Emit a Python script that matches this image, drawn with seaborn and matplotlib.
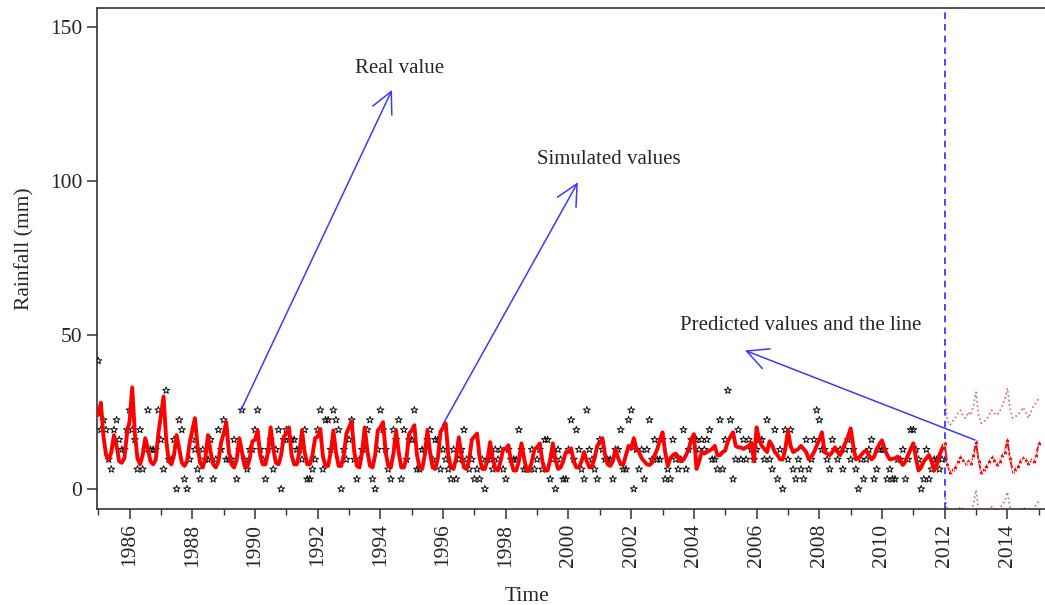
import numpy as np
import pandas as pd
import seaborn as sns
import matplotlib.pyplot as plt
from matplotlib.ticker import MultipleLocator

# monthly observed rainfall (mm), Jan 1985 .. Dec 2011, one row per year
real_rain = [
    41.6, 19.2, 22.4, 19.2, 9.6, 6.4, 19.2, 22.4, 16, 12.8, 12.8, 19.2,
    25.6, 19.2, 16, 6.4, 19.2, 6.4, 12.8, 25.6, 12.8, 12.8, 12.8, 25.6,
    16, 6.4, 32, 9.6, 9.6, 16, 0, 22.4, 19.2, 3.2, 0, 9.6,
    16, 12.8, 6.4, 3.2, 12.8, 9.6, 9.6, 16, 3.2, 9.6, 19.2, 12.8,
    22.4, 9.6, 9.6, 9.6, 16, 3.2, 12.8, 25.6, 9.6, 6.4, 12.8, 12.8,
    19.2, 25.6, 12.8, 9.6, 3.2, 12.8, 16, 6.4, 12.8, 19.2, 0, 16,
    19.2, 16, 16, 16, 12.8, 12.8, 9.6, 19.2, 3.2, 3.2, 6.4, 9.6,
    19.2, 25.6, 6.4, 22.4, 22.4, 12.8, 25.6, 22.4, 19.2, 0, 12.8, 9.6,
    16, 22.4, 9.6, 3.2, 9.6, 12.8, 12.8, 19.2, 22.4, 3.2, 0, 12.8,
    25.6, 19.2, 12.8, 6.4, 3.2, 19.2, 16, 22.4, 3.2, 19.2, 9.6, 16,
    16, 25.6, 6.4, 6.4, 12.8, 12.8, 16, 19.2, 9.6, 16, 16, 6.4,
    12.8, 9.6, 6.4, 3.2, 12.8, 3.2, 9.6, 12.8, 19.2, 9.6, 6.4, 9.6,
    3.2, 6.4, 3.2, 9.6, 0, 9.6, 9.6, 6.4, 12.8, 9.6, 12.8, 6.4,
    3.2, 12.8, 9.6, 9.6, 9.6, 19.2, 12.8, 6.4, 6.4, 6.4, 12.8, 6.4,
    9.6, 12.8, 6.4, 16, 16, 3.2, 9.6, 0, 12.8, 9.6, 3.2, 3.2,
    12.8, 22.4, 9.6, 19.2, 12.8, 6.4, 3.2, 25.6, 12.8, 9.6, 6.4, 3.2,
    16, 12.8, 9.6, 9.6, 9.6, 3.2, 12.8, 12.8, 19.2, 6.4, 6.4, 22.4,
    25.6, 0, 12.8, 6.4, 12.8, 3.2, 12.8, 22.4, 9.6, 16, 9.6, 9.6,
    16, 3.2, 6.4, 3.2, 16, 9.6, 6.4, 9.6, 19.2, 6.4, 12.8, 16,
    16, 16, 12.8, 16, 12.8, 16, 19.2, 9.6, 9.6, 6.4, 22.4, 6.4,
    16, 32, 22.4, 3.2, 9.6, 19.2, 9.6, 16, 9.6, 16, 12.8, 9.6,
    12.8, 16, 16, 9.6, 22.4, 9.6, 6.4, 19.2, 3.2, 12.8, 0, 19.2,
    9.6, 19.2, 6.4, 3.2, 9.6, 6.4, 3.2, 16, 6.4, 9.6, 16, 25.6,
    22.4, 12.8, 12.8, 9.6, 6.4, 16, 12.8, 9.6, 12.8, 6.4, 12.8, 16,
    9.6, 12.8, 6.4, 0, 9.6, 3.2, 9.6, 12.8, 16, 3.2, 6.4, 12.8,
    12.8, 12.8, 3.2, 6.4, 3.2, 3.2, 9.6, 9.6, 12.8, 3.2, 9.6, 19.2,
    19.2, 12.8, 9.6, 0, 3.2, 12.8, 3.2, 6.4, 9.6, 9.6, 6.4, 9.6,
]

# simulated monthly rainfall, Jan 1985 .. Jan 2012
sim_rain = [
    24, 28, 17, 11, 9.5, 12, 17.5, 14, 9, 8.5, 10, 18,
    22, 33, 18, 10, 8, 11, 16.5, 13, 9, 8, 9.5, 18,
    24, 30, 16, 9, 8, 11, 17.5, 13, 8.5, 7.5, 9, 15,
    19, 23, 14, 8.5, 7, 10, 17.5, 12, 8, 7, 9, 15,
    18, 21.7, 12, 8, 7, 9.5, 16.5, 12, 7.5, 7, 10, 15.5,
    16, 19, 11, 8, 8, 12, 20, 13, 8.5, 8, 11, 17,
    18, 20, 11, 8, 8, 12, 19, 12, 8, 8, 11, 16.5,
    17, 19.5, 10.5, 7.5, 7.5, 12, 19, 12, 7.5, 7.5, 11, 18,
    20, 22, 12, 7.5, 7, 12, 20, 12.5, 7.5, 7, 11, 19,
    20, 21.7, 12, 7.5, 7, 11.5, 19, 12, 7, 7, 10, 18,
    19, 20.7, 11, 7, 6.5, 11, 19, 12, 7, 6.5, 10, 18.5,
    20, 21.3, 11, 7, 6.5, 10, 16.8, 11, 7, 6.5, 9.5, 16,
    17, 18, 10, 6.5, 6.5, 9.5, 15.2, 10, 6.5, 6, 9, 13,
    13, 14.2, 9, 6, 6, 9, 14.8, 10, 6, 6, 9, 13,
    13.5, 14.8, 9, 6, 6, 9.5, 14.8, 9.5, 6.5, 7, 9, 12,
    12, 13.2, 9, 7, 7, 9, 12, 9, 7, 7.5, 10, 14,
    15, 16.5, 11, 8, 7.5, 9, 13, 10, 8, 8, 11, 14,
    13, 16.5, 13, 12, 10, 9, 8, 7.8, 8.5, 11, 13, 16,
    18.4, 12, 7.5, 10, 11, 11.5, 10.5, 9, 9.5, 11, 13, 16,
    17.8, 6.5, 9, 12, 11.5, 12, 12.5, 13, 14, 11, 11, 12,
    12.5, 15.5, 17, 18.4, 14, 13.5, 13.5, 13, 13.5, 14, 15, 9,
    20, 16, 14, 13, 12, 15.5, 14, 12, 11, 9.6, 9.6, 13,
    19, 14, 12, 12.5, 13, 14, 13, 12, 9.6, 10.5, 12, 14,
    16, 18.4, 12, 11.5, 11, 12, 13.5, 12, 11, 13, 15, 17,
    19.7, 14, 9.6, 10, 11, 12, 12.5, 11, 9.6, 10.5, 13, 14.5,
    15.8, 13, 11, 9.6, 9.8, 10, 10.5, 9, 7.8, 9, 11, 13,
    14.8, 10, 6, 7, 9, 10, 11, 9, 6, 8, 11, 13,
    14.8,
]

# forecast, Jan 2012 .. Jan 2015, with upper / lower limits
pred_rain = [
    14.8, 8, 5.5, 6.5, 7, 9, 10.3, 9.5, 8.5, 9, 8.5, 11,
    15.2, 9, 5.5, 6.5, 7.5, 9, 10.3, 9.5, 8, 9, 11, 12,
    15.8, 10, 6, 6.5, 7.5, 9, 10, 9.5, 8.5, 9.5, 9, 11,
    14.8,
]
pred_upper = [
    30.4, 22, 20.7, 22, 23, 24.5, 25.6, 24, 23, 25, 24, 27,
    31.4, 24, 21.3, 22, 22.4, 24, 25.6, 24.5, 24, 25, 27, 29,
    32.7, 26, 23, 23.5, 24, 25, 26.5, 25, 23, 25, 27, 28,
    29.4,
]
pred_lower = [
    -1.5, -8, -10.5, -9.5, -9, -7, -5.7, -6.5, -7.5, -7, -7.5, -5,
    -0.3, -7, -10.5, -9.5, -8.5, -7, -5.7, -6.5, -8, -7, -5, -4,
    -1, -6, -10, -9.5, -8.5, -7, -6, -6.5, -7.5, -6.5, -7, -5,
    -4,
]

start_year = 1985
forecast_start = 2012.02
year_ticks = list(range(1986, 2015, 2))
y_ticks = [0, 50, 100, 150]

real = pd.DataFrame({"time": start_year + np.arange(len(real_rain)) / 12, "rain": real_rain})
sim = pd.DataFrame({"time": start_year + np.arange(len(sim_rain)) / 12, "rain": sim_rain})
pred_t = 2012 + np.arange(len(pred_rain)) / 12
pred = pd.DataFrame({"time": pred_t, "rain": pred_rain, "upper": pred_upper, "lower": pred_lower})

sns.set_style("ticks")
plt.rcParams["font.family"] = ["Liberation Serif", "DejaVu Serif"]

fig = plt.figure(figsize=(10.45, 6.05), dpi=100)
ax = fig.add_axes([97 / 1045, 1 - 509 / 605, 948 / 1045, 501 / 605])

# observed values
sns.scatterplot(data=real, x="time", y="rain", marker="*", s=28,
                facecolor="none", edgecolor="#111111", linewidth=0.7, ax=ax, zorder=3)
# simulated line
sns.lineplot(data=sim, x="time", y="rain", color="#ff0000", linewidth=2.8, ax=ax, zorder=4)
# prediction and its limits
sns.lineplot(data=pred, x="time", y="rain", color="#ee1111", linewidth=1.4,
             marker="*", markersize=6, markeredgewidth=0.6, ax=ax, zorder=4)
sns.lineplot(data=pred, x="time", y="upper", color="#f06060", linewidth=1.2,
             linestyle=":", ax=ax)
sns.lineplot(data=pred, x="time", y="lower", color="#f06060", linewidth=1.2,
             linestyle=":", ax=ax)

ax.axvline(forecast_start, color="#2a2aff", linestyle=(0, (4, 3)), linewidth=1.2)

arrow = dict(arrowstyle="->", color="#3a3aff", lw=1.1, mutation_scale=38,
             shrinkA=0, shrinkB=0)
ax.annotate("", xy=(1994.37, 129.6), xytext=(1989.52, 24.9), arrowprops=arrow)
ax.annotate("", xy=(2000.3, 99.6), xytext=(1995.98, 20.7), arrowprops=arrow)
ax.annotate("", xy=(2005.63, 45), xytext=(2013.07, 15.5), arrowprops=arrow)
ax.text(1994.6, 136.5, "Real value", ha="center", va="center", fontsize=15)
ax.text(2001.3, 107, "Simulated values", ha="center", va="center", fontsize=15)
ax.text(2007.4, 53, "Predicted values and the line", ha="center", va="center", fontsize=15)

ax.set_xlim(1984.96, 2015.2)
ax.set_ylim(-6.5, 156.2)
ax.set_xticks(year_ticks)
ax.set_xticklabels([str(y) for y in year_ticks], rotation=90)
ax.xaxis.set_minor_locator(MultipleLocator(1))
ax.set_yticks(y_ticks)
ax.tick_params(axis="both", which="major", labelsize=15.5, length=7, width=1.1,
               color="#333333", direction="out")
ax.tick_params(axis="x", which="minor", length=4, width=1.0, color="#333333")
ax.spines["right"].set_visible(False)
for side in ["left", "bottom", "top"]:
    ax.spines[side].set_linewidth(1.2)
    ax.spines[side].set_color("#333333")

ax.set_xlabel("Time", fontsize=15.5)
ax.set_ylabel("Rainfall (mm)", fontsize=15.5)
ax.xaxis.set_label_coords((527 - 97) / 948, -0.156)
ax.yaxis.set_label_coords(-0.066, 0.52)

fig.savefig("out.png", dpi=100)
